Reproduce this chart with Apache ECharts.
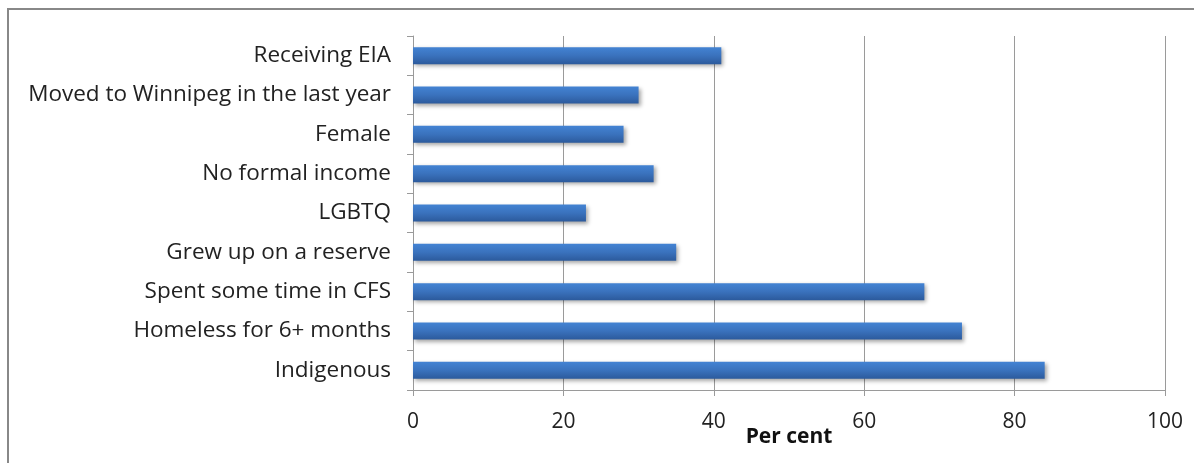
<!DOCTYPE html>
<html>
<head>
<meta charset="utf-8">
<script src="https://cdn.jsdelivr.net/npm/echarts@6/dist/echarts.min.js"></script>
<style>
  html, body { margin: 0; padding: 0; background: #fff; }
  #chart { width: 1194px; height: 463px; }
</style>
</head>
<body>
<div id="chart"></div>
<script>
// bottom to top, as the category axis draws them
const categories = [
    "Indigenous",
    "Homeless for 6+ months",
    "Spent some time in CFS",
    "Grew up on a reserve",
    "LGBTQ",
    "No formal income",
    "Female",
    "Moved to Winnipeg in the last year",
    "Receiving EIA"
];
const values = [84, 73, 68, 35, 23, 32, 28, 30, 41];
const xTicks = [0, 20, 40, 60, 80, 100];

const lineColor = "#9a9a9a";
const font = "Open Sans";

const chart = echarts.init(document.getElementById("chart"));
chart.setOption({
    backgroundColor: "#fff",
    animation: false,
    graphic: [
        {
            // outer chart frame, runs off the right and bottom of the picture
            type: "rect",
            shape: { x: 8, y: 9, width: 1300, height: 600 },
            style: { fill: "none", stroke: "#888", lineWidth: 2 },
            silent: true
        }
    ],
    grid: {
        left: 413,
        right: 29,
        top: 36,
        bottom: 73
    },
    xAxis: {
        type: "value",
        min: xTicks[0],
        max: xTicks[xTicks.length - 1],
        interval: 20,
        name: "Per cent",
        nameLocation: "middle",
        nameGap: 47,
        nameMoveOverlap: false,
        nameTextStyle: {
            fontFamily: font,
            fontWeight: "bold",
            fontSize: 21,
            color: "#111",
            verticalAlign: "middle"
        },
        axisLine: { show: true, lineStyle: { color: lineColor } },
        axisTick: { show: true, length: 6, lineStyle: { color: lineColor } },
        axisLabel: {
            margin: 22,
            fontFamily: font,
            fontSize: 21,
            color: "#222"
        },
        splitLine: { show: true, lineStyle: { color: lineColor, width: 1 } }
    },
    yAxis: {
        type: "category",
        data: categories,
        axisLine: { show: true, lineStyle: { color: lineColor } },
        axisTick: { show: true, inside: false, length: 6, lineStyle: { color: lineColor } },
        axisLabel: {
            margin: 22,
            fontFamily: font,
            fontSize: 22.5,
            color: "#222"
        },
        splitLine: { show: false }
    },
    series: [
        {
            type: "bar",
            data: values,
            barWidth: 17,
            itemStyle: {
                color: new echarts.graphic.LinearGradient(0, 0, 0, 1, [
                    { offset: 0, color: "#4383d3" },
                    { offset: 0.5, color: "#3a72bd" },
                    { offset: 1, color: "#2c5a9c" }
                ]),
                shadowColor: "rgba(0, 0, 0, 0.35)",
                shadowBlur: 4,
                shadowOffsetX: 2,
                shadowOffsetY: 2
            }
        }
    ]
});
</script>
</body>
</html>
